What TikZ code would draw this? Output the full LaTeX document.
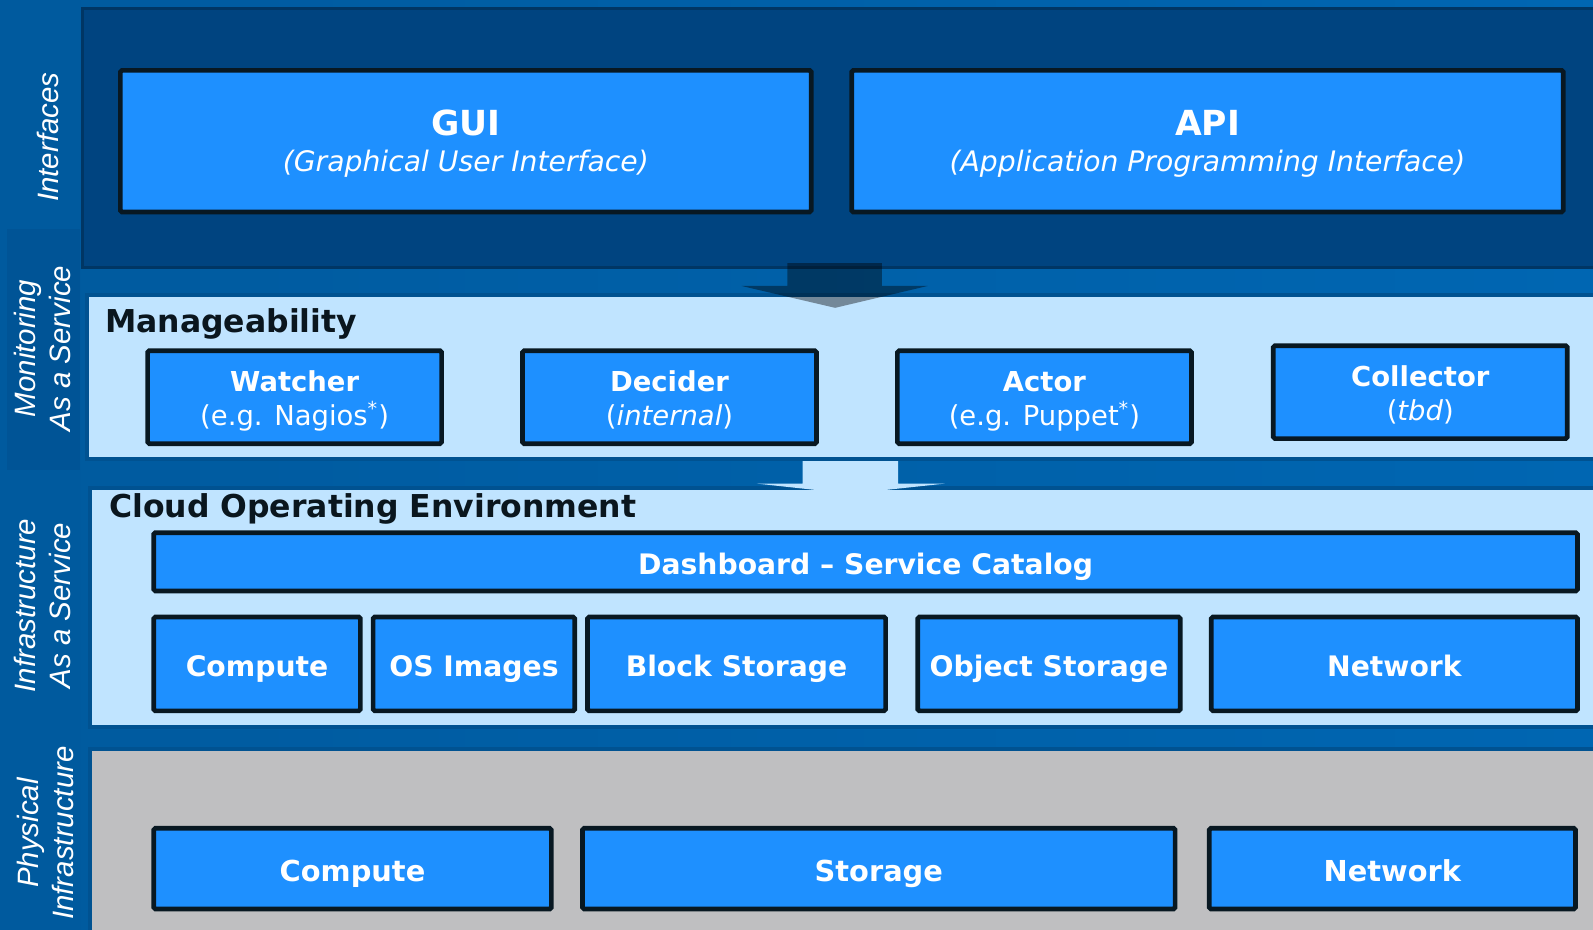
\documentclass[tikz,border=0pt]{standalone}
\usepackage{fontspec}
\setmainfont{DejaVu Sans}
\newfontfamily\labfont{Liberation Sans}
\definecolor{bgleft}{RGB}{0,90,158}
\definecolor{bgright}{RGB}{0,102,178}
\definecolor{lblpanel}{RGB}{0,84,150}
\definecolor{navy}{RGB}{0,68,128}
\definecolor{navyline}{RGB}{0,54,100}
\definecolor{lightpanel}{RGB}{192,228,255}
\definecolor{panelline}{RGB}{0,82,145}
\definecolor{greypanel}{RGB}{191,191,193}
\definecolor{boxblue}{RGB}{30,144,255}
\definecolor{boxline}{RGB}{8,24,34}
\definecolor{titletext}{RGB}{10,22,30}
\begin{document}
\begin{tikzpicture}[x=0.5pt,y=-0.5pt,
  box/.style={draw=boxline, fill=boxblue, line width=2.3pt, rounded corners=0.8pt,
    text=white, align=center, inner sep=0pt},
  mgbox/.style={box, minimum width=144.7pt, minimum height=45.7pt,
    text height=28pt, text depth=0pt, font=\fontsize{13.5}{17}\selectfont},
  ifbox/.style={box, minimum height=69.7pt, text height=29.9pt, text depth=0pt,
    font=\fontsize{13.9}{18}\selectfont},
  onebox/.style={box, text height=12.2pt, text depth=0pt},
  rowbox/.style={onebox, minimum height=46.2pt, font=\bfseries\fontsize{13.9}{17}\selectfont},
  physbox/.style={onebox, minimum height=39.7pt, font=\bfseries\fontsize{14.2}{17}\selectfont},
  lbl/.style={text=white, rotate=90, align=center, inner sep=0pt,
    font=\labfont\itshape\fontsize{14.5}{17.2}\selectfont},
  title/.style={anchor=west, inner sep=0pt, text=titletext,
    font=\bfseries\fontsize{15.5}{18}\selectfont},
  lpanel/.style={fill=lightpanel, draw=panelline, line width=2pt}
]
\useasboundingbox (0,0) rectangle (1568,915);
% background
\shade[left color=bgleft, right color=bgright] (0,0) rectangle (1568,915);
\fill[bgleft] (0,0) rectangle (80,915);
\fill[lblpanel] (7,225) rectangle (79,463);
% panels
\filldraw[fill=navy, draw=navyline, line width=1.5pt] (81,8) rectangle (1580,263);
\filldraw[lpanel] (86,290) rectangle (1580,452);
\filldraw[lpanel] (89,480) rectangle (1580,716);
\filldraw[fill=greypanel, draw=panelline, line width=2pt] (89,737) rectangle (1580,930);
% arrows
\fill[black, fill opacity=0.4] (775,259) -- (868,259) -- (868,281.5) -- (913,281.5)
  -- (822,303) -- (730,281.5) -- (775,281.5) -- cycle;
\fill[lightpanel] (790,454) -- (884,454) -- (884,476) -- (930,476) -- (837,486)
  -- (745,476) -- (790,476) -- cycle;
% side labels
\node[lbl] (lif) at (47,135) {Interfaces};
\node[lbl] (lmon) at (42,343) {Monitoring\\As a Service};
\node[lbl] (liaas) at (42,596) {Infrastructure\\As a Service};
\node[lbl] (lphys) at (45,820) {Physical\\Infrastructure};
% interfaces
\node[ifbox, minimum width=340pt] (gui) at (458.5,139)
  {{\bfseries\fontsize{17}{18}\selectfont GUI}\\{\itshape (Graphical User Interface)}};
\node[ifbox, minimum width=350.2pt] (api) at (1188.5,139)
  {{\bfseries\fontsize{17}{18}\selectfont API}\\{\itshape (Application Programming Interface)}};
% manageability
\node[title] (mtitle) at (103,319) {Manageability};
\node[mgbox] (watcher) at (290,391) {\textbf{Watcher}\\(e.g. Nagios\textsuperscript{*})};
\node[mgbox] (decider) at (659,391) {\textbf{Decider}\\(\textit{internal})};
\node[mgbox] (actor) at (1028,391) {\textbf{Actor}\\(e.g. Puppet\textsuperscript{*})};
\node[mgbox] (collector) at (1398,386) {\textbf{Collector}\\(\textit{tbd})};
% cloud operating environment
\node[title] (ctitle) at (107,501) {Cloud Operating Environment};
\node[onebox, minimum width=700.7pt, minimum height=28.7pt,
  font=\bfseries\fontsize{13.9}{17}\selectfont] (dash) at (852,553)
  {Dashboard -- Service Catalog};
\node[rowbox, minimum width=101.7pt] (ccompute) at (253,653.5) {Compute};
\node[rowbox, minimum width=99.2pt] (osimg) at (466.5,653.5) {OS Images};
\node[rowbox, minimum width=146.7pt] (block) at (725,653.5) {Block Storage};
\node[rowbox, minimum width=129.2pt] (object) at (1032.5,653.5) {Object Storage};
\node[rowbox, minimum width=180.2pt] (cnet) at (1372.5,653.5) {Network};
% physical
\node[physbox, minimum width=195.7pt] (pcompute) at (347,855) {Compute};
\node[physbox, minimum width=291.7pt] (pstorage) at (865,855) {Storage};
\node[physbox, minimum width=180.2pt] (pnet) at (1370.5,855) {Network};
\end{tikzpicture}
\end{document}
